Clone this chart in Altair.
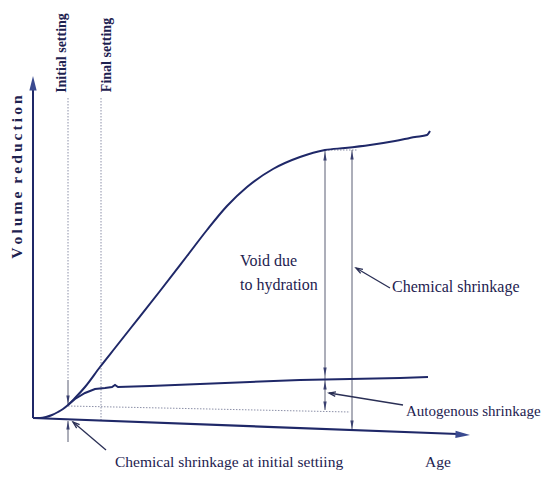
import altair as alt
import pandas as pd

# Coordinates: age (x) and level (y, measured downward, reversed scale)
chem_age = [33, 40, 46, 52, 58, 63, 68, 75, 85, 100, 115, 130, 160, 187, 207, 227, 247, 273, 300, 325, 345, 370, 395, 415, 427, 430]
chem_lvl = [418, 418, 417, 415, 412, 409, 405, 398, 387, 367, 348, 329, 291, 256, 230, 206, 187, 169, 157, 150, 148, 145, 141, 137, 135, 131]

auto_age = [68, 75, 85, 95, 105, 112, 115, 118, 150, 200, 250, 300, 350, 400, 428]
auto_lvl = [405, 399, 393, 389, 388, 387, 385, 387, 386, 384, 382, 380, 379, 378, 377]

# axes (scan slightly tilted)
xaxis_age = [33, 458]
xaxis_lvl = [418, 434]
yaxis_age = [33, 33]
yaxis_lvl = [418, 88]

# dotted reference lines
dot_seg_x = [68, 101, 68, 325]
dot_seg_y = [98, 98, 406, 150]
dot_seg_x2 = [68, 101, 350, 358]
dot_seg_y2 = [380, 420, 412, 150]

# vertical measure lines
vline_x = [325, 352, 68, 68]
vline_y = [151, 150, 380, 421]
vline_y2 = [410, 429, 404, 442]

# filled arrowheads: tip position and direction angle
head_x = [325, 325, 325, 325, 352, 352, 68, 68]
head_y = [152, 376, 381, 410, 151, 429, 404, 421]
head_ang = [0, 180, 0, 180, 0, 180, 180, 0]

axis_head_x = [470, 33]
axis_head_y = [435, 76]
axis_head_ang = [92, 0]

# pointer arrows (tail -> tip)
ptr_x = [390, 403, 106]
ptr_y = [288, 405, 450]
ptr_x2 = [356, 329, 73]
ptr_y2 = [268, 393, 422]
ptr_ang = [300, 279, 310]

# text labels
lab_text = ["Void due", "to hydration", "Chemical shrinkage", "Autogenous shrinkage",
            "Chemical shrinkage at initial settiing", "Age"]
lab_x = [240, 240, 392, 406, 115, 425]
lab_y = [266, 290, 292, 416, 467, 467]
lab_fs = [16, 16, 16, 15, 15.5, 15.5]

S = "\u2009"
vlab_text = [S.join("Volume") + "\u00a0\u00a0" + S.join("reduction"), "Initial setting", "Final setting"]
vlab_x = [17, 62, 107]
vlab_y = [177, 53, 55]
vlab_fs = [15.5, 14, 14]

NAVY = "#1f2868"
GRAY = "#8c90a8"
DARK = "#5a5e74"
TXT = "#1e2250"
FONT = "'Liberation Serif', 'DejaVu Serif', serif"

X = lambda f: alt.X(f, type="quantitative", scale=alt.Scale(domain=[8, 544]), axis=None)
Y = lambda f: alt.Y(f, type="quantitative", scale=alt.Scale(domain=[8, 471], reverse=True), axis=None)

chem = alt.Chart(pd.DataFrame({"a": chem_age, "l": chem_lvl, "i": range(len(chem_age))})).mark_line(
    color=NAVY, strokeWidth=2, interpolate="monotone").encode(x=X("a"), y=Y("l"), order="i:Q")
auto = alt.Chart(pd.DataFrame({"a": auto_age, "l": auto_lvl, "i": range(len(auto_age))})).mark_line(
    color=NAVY, strokeWidth=2).encode(x=X("a"), y=Y("l"), order="i:Q")
xax = alt.Chart(pd.DataFrame({"a": xaxis_age, "l": xaxis_lvl})).mark_line(
    color=NAVY, strokeWidth=2.2).encode(x=X("a"), y=Y("l"))
yax = alt.Chart(pd.DataFrame({"a": yaxis_age, "l": yaxis_lvl, "i": [0, 1]})).mark_line(
    color=NAVY, strokeWidth=2).encode(x=X("a"), y=Y("l"), order="i:Q")

dots = alt.Chart(pd.DataFrame({"x": dot_seg_x, "y": dot_seg_y, "x2": dot_seg_x2, "y2": dot_seg_y2})).mark_rule(
    color=GRAY, strokeWidth=1, strokeDash=[1.5, 1.5]).encode(x=X("x"), y=Y("y"), x2="x2:Q", y2="y2:Q")

vlines = alt.Chart(pd.DataFrame({"x": vline_x, "y": vline_y, "y2": vline_y2})).mark_rule(
    color=DARK, strokeWidth=1).encode(x=X("x"), y=Y("y"), y2="y2:Q")

TRI = "M0,0L0.32,1.6L-0.32,1.6Z"
heads = alt.Chart(pd.DataFrame({"x": head_x, "y": head_y, "ang": head_ang})).mark_point(
    shape=TRI, filled=True, color="#3a4070", size=110, opacity=1).encode(
    x=X("x"), y=Y("y"), angle=alt.Angle("ang:Q", scale=None))
axheads = alt.Chart(pd.DataFrame({"x": axis_head_x, "y": axis_head_y, "ang": axis_head_ang})).mark_point(
    shape="M0,0L0.4,1.6L-0.4,1.6Z", filled=True, color="#3a4a90", size=330, opacity=1).encode(
    x=X("x"), y=Y("y"), angle=alt.Angle("ang:Q", scale=None))

ptrs = alt.Chart(pd.DataFrame({"x": ptr_x, "y": ptr_y, "x2": ptr_x2, "y2": ptr_y2})).mark_rule(
    color="#2a2f55", strokeWidth=1.3).encode(x=X("x"), y=Y("y"), x2="x2:Q", y2="y2:Q")
ptrheads = alt.Chart(pd.DataFrame({"x": ptr_x2, "y": ptr_y2, "ang": ptr_ang})).mark_point(
    shape="M-0.55,1.6L0,0L0.55,1.6", filled=False, color="#2a2f55", strokeWidth=1.3, size=70, opacity=1).encode(
    x=X("x"), y=Y("y"), angle=alt.Angle("ang:Q", scale=None))

labels = alt.Chart(pd.DataFrame({"t": lab_text, "x": lab_x, "y": lab_y, "fs": lab_fs})).mark_text(
    font=FONT, color=TXT, align="left", baseline="alphabetic").encode(
    x=X("x"), y=Y("y"), text="t:N", size=alt.Size("fs:Q", scale=None, legend=None))

vlabels = alt.Chart(pd.DataFrame({"t": vlab_text, "x": vlab_x, "y": vlab_y, "fs": vlab_fs})).mark_text(
    font=FONT, fontWeight="bold", color=TXT, align="center", baseline="middle", angle=270).encode(
    x=X("x"), y=Y("y"), text="t:N", size=alt.Size("fs:Q", scale=None, legend=None))

chart = alt.layer(dots, vlines, chem, auto, xax, yax, heads, axheads, ptrs, ptrheads, labels, vlabels).properties(
    width=536, height=463, padding=0, autosize=alt.AutoSizeParams(type="none"), background="white"
).configure_view(stroke=None)

chart.save("out.html", embed_options={"renderer": "svg", "actions": False})
